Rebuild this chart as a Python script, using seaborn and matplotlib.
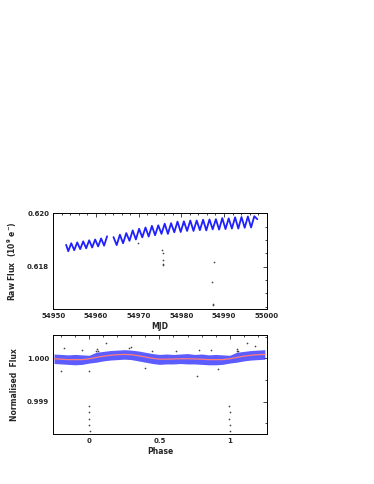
import matplotlib
matplotlib.use("Agg")
import matplotlib.pyplot as plt
import seaborn as sns
import pandas as pd
from matplotlib.ticker import MultipleLocator, FormatStrFormatter

# raw light curve, peaks/troughs (two observing segments)
mjd_seg1 = [54953.0, 54953.5, 54954.2, 54954.9, 54955.6, 54956.3, 54957.0, 54957.7,
            54958.4, 54959.1, 54959.8, 54960.5, 54961.2, 54961.9, 54962.6]
flux_seg1 = [0.61882, 0.61858, 0.61888, 0.61862, 0.61891, 0.61866, 0.61895, 0.61869,
             0.61899, 0.61872, 0.61902, 0.61876, 0.61906, 0.61879, 0.61914]

mjd_seg2 = [54964.1, 54964.85, 54965.6, 54966.35, 54967.1, 54967.85, 54968.6, 54969.35,
            54970.1, 54970.85, 54971.6, 54972.35, 54973.1, 54973.85, 54974.6, 54975.35,
            54976.1, 54976.85, 54977.6, 54978.35, 54979.1, 54979.85, 54980.6, 54981.35,
            54982.1, 54982.85, 54983.6, 54984.35, 54985.1, 54985.85, 54986.6, 54987.35,
            54988.1, 54988.85, 54989.6, 54990.35, 54991.1, 54991.85, 54992.6, 54993.35,
            54994.1, 54994.85, 54995.6, 54996.35, 54997.1, 54997.8]
flux_seg2 = [0.61911, 0.61881, 0.61920, 0.61888, 0.61926, 0.61897, 0.61936, 0.61902,
             0.61942, 0.61910, 0.61947, 0.61913, 0.61953, 0.61918, 0.61955, 0.61923,
             0.61961, 0.61923, 0.61963, 0.61929, 0.61969, 0.61930, 0.61970, 0.61934,
             0.61973, 0.61934, 0.61973, 0.61937, 0.61976, 0.61936, 0.61977, 0.61940,
             0.61978, 0.61939, 0.61982, 0.61941, 0.61981, 0.61943, 0.61985, 0.61943,
             0.61986, 0.61946, 0.61988, 0.61947, 0.61989, 0.61978]

# outlying raw points
mjd_out = [54969.9, 54975.5, 54975.6, 54975.6, 54975.7, 54975.6, 54980.5,
           54987.6, 54987.3, 54987.4, 54987.5]
flux_out = [0.61888, 0.61862, 0.61850, 0.61826, 0.61812, 0.61806, 0.61960,
            0.61818, 0.61744, 0.61660, 0.61657]

# phase-folded light curve: scatter envelope and model
phase = [-0.25, -0.2, -0.15, -0.1, -0.05, 0.0, 0.05, 0.1, 0.15, 0.2, 0.25, 0.3, 0.35,
         0.4, 0.45, 0.5, 0.55, 0.6, 0.65, 0.7, 0.75, 0.8, 0.85, 0.9, 0.95, 1.0, 1.05,
         1.1, 1.15, 1.2, 1.25]
model = [0.99999, 0.99998, 0.99997, 0.99997, 0.99997, 0.99999, 1.00002, 1.00005,
         1.00007, 1.000085, 1.00009, 1.000085, 1.00006, 1.00003, 1.00000, 0.99998,
         0.99998, 0.999985, 0.99999, 0.99999, 0.999985, 0.99998, 0.99997, 0.99997,
         0.99997, 0.99999, 1.00002, 1.00005, 1.00007, 1.000085, 1.00009]
band_hi = [1.00010, 1.00009, 1.00008, 1.00009, 1.00008, 1.00007, 1.00014, 1.00016,
           1.00018, 1.00019, 1.00020, 1.00019, 1.00017, 1.00014, 1.00011, 1.00009,
           1.00010, 1.00009, 1.00010, 1.00011, 1.00009, 1.00010, 1.00008, 1.00009,
           1.00008, 1.00007, 1.00014, 1.00016, 1.00018, 1.00019, 1.00020]
band_lo = [0.99988, 0.99987, 0.99986, 0.99985, 0.99986, 0.99989, 0.99991, 0.99994,
           0.99996, 0.99997, 0.99998, 0.99997, 0.99994, 0.99991, 0.99988, 0.99986,
           0.99987, 0.99987, 0.99988, 0.99987, 0.99987, 0.99986, 0.99985, 0.99985,
           0.99986, 0.99989, 0.99991, 0.99994, 0.99996, 0.99997, 0.99998]

# outliers and transit points in phase
phase_out = [0.05, 0.055, 0.06, 1.05, 1.055, 1.06, -0.18, -0.05, 0.12, 0.28, 0.30,
             0.45, 0.62, 0.78, 0.87, 1.12, 1.18, -0.20, 0.0, 0.40, 0.77, 0.92,
             -0.003, 0.002, -0.002, 0.0, 0.003,
             0.997, 1.002, 0.998, 1.0, 1.003]
nflux_out = [1.00018, 1.00022, 1.00016, 1.00018, 1.00022, 1.00016, 1.00025, 1.00020,
             1.00035, 1.00024, 1.00026, 1.00016, 1.00018, 1.00020, 1.00020, 1.00035,
             1.00028, 0.99970, 0.99971, 0.99978, 0.99960, 0.99975,
             0.99890, 0.99875, 0.99860, 0.99845, 0.99832,
             0.99890, 0.99875, 0.99860, 0.99845, 0.99832]

sns.set_style("white")
plt.rcParams.update({
    "font.family": ["DejaVu Sans"],
    "font.weight": "bold",
    "xtick.direction": "in", "ytick.direction": "in",
    "xtick.top": True, "ytick.right": True,
    "xtick.major.size": 3.0, "ytick.major.size": 3.0,
    "xtick.minor.size": 1.5, "ytick.minor.size": 1.5,
    "xtick.major.width": 0.6, "ytick.major.width": 0.6,
    "xtick.minor.width": 0.6, "ytick.minor.width": 0.6,
    "axes.linewidth": 0.7, "axes.edgecolor": "black",
    "xtick.labelsize": 5, "ytick.labelsize": 5,
    "xtick.major.pad": 3, "ytick.major.pad": 3,
})

fig = plt.figure(figsize=(3.74, 4.84), dpi=100)
ax1 = fig.add_axes([0.1426, 0.3616, 0.5704, 0.1977])
ax2 = fig.add_axes([0.1426, 0.1033, 0.5704, 0.2046])

blue = "#2020ff"
seg1 = pd.DataFrame({"mjd": mjd_seg1, "flux": flux_seg1})
seg2 = pd.DataFrame({"mjd": mjd_seg2, "flux": flux_seg2})
sns.lineplot(data=seg1, x="mjd", y="flux", ax=ax1, color=blue, lw=1.3, sort=False)
sns.lineplot(data=seg2, x="mjd", y="flux", ax=ax1, color=blue, lw=1.3, sort=False)
sns.scatterplot(x=mjd_out, y=flux_out, ax=ax1, color="#444444", s=1.5, linewidth=0)

ax1.set_xlim(54950, 55000)
ax1.set_ylim(0.61642, 0.62)
ax1.xaxis.set_major_locator(MultipleLocator(10))
ax1.xaxis.set_minor_locator(MultipleLocator(2))
ax1.yaxis.set_major_locator(MultipleLocator(0.002))
ax1.yaxis.set_minor_locator(MultipleLocator(0.0005))
ax1.yaxis.set_major_formatter(FormatStrFormatter("%.3f"))
ax1.set_xlabel("MJD", fontsize=5.5, fontweight="bold", labelpad=2)
ax1.set_ylabel("Raw Flux  (10$^{9}$ e$^{-}$)", fontsize=5.5, fontweight="bold", labelpad=6)

# phase-folded panel
ax2.fill_between(phase, band_lo, band_hi, color="#3535ff", alpha=0.8, lw=0)
sns.lineplot(x=phase, y=model, ax=ax2, color="#ff7a7a", lw=0.9)
sns.scatterplot(x=phase_out, y=nflux_out, ax=ax2, color="#444444", s=1.5, linewidth=0)

ax2.set_xlim(-0.255, 1.263)
ax2.set_ylim(0.99825, 1.00054)
ax2.xaxis.set_major_locator(MultipleLocator(0.5))
ax2.xaxis.set_minor_locator(MultipleLocator(0.1))
ax2.xaxis.set_major_formatter(plt.FuncFormatter(lambda v, p: f"{v:g}"))
ax2.yaxis.set_major_locator(MultipleLocator(0.001))
ax2.yaxis.set_minor_locator(MultipleLocator(0.0005))
ax2.yaxis.set_major_formatter(FormatStrFormatter("%.3f"))
ax2.set_xlabel("Phase", fontsize=5.5, fontweight="bold", labelpad=2)
ax2.set_ylabel("Normalised  Flux", fontsize=5.5, fontweight="bold", labelpad=6)

fig.savefig("out.png", dpi=100)
